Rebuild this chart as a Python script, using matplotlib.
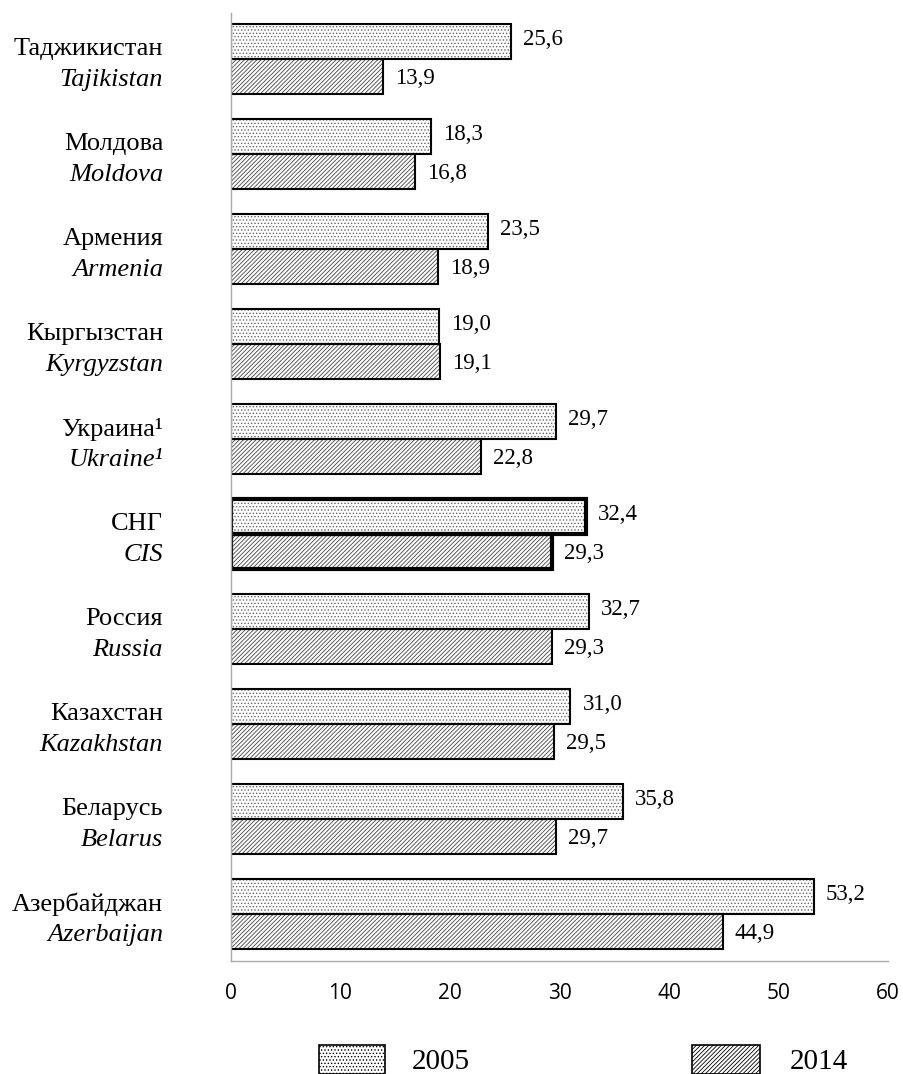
import matplotlib.pyplot as plt
from matplotlib.patches import Rectangle

# data, top to bottom
names_ru = ['Таджикистан', 'Молдова', 'Армения', 'Кыргызстан', 'Украина¹',
            'СНГ', 'Россия', 'Казахстан', 'Беларусь', 'Азербайджан']
names_en = ['Tajikistan', 'Moldova', 'Armenia', 'Kyrgyzstan', 'Ukraine¹',
            'CIS', 'Russia', 'Kazakhstan', 'Belarus', 'Azerbaijan']
val_2005 = [25.6, 18.3, 23.5, 19.0, 29.7, 32.4, 32.7, 31.0, 35.8, 53.2]
val_2014 = [13.9, 16.8, 18.9, 19.1, 22.8, 29.3, 29.3, 29.5, 29.7, 44.9]
years = ['2005', '2014']

serif = 'Liberation Serif'
W, H = 904, 1074
plt.rcParams['hatch.linewidth'] = 0.6

fig = plt.figure(figsize=(W / 100, H / 100), dpi=100)
ax = fig.add_axes([231 / W, 1 - 961 / H, 657 / W, 948 / H])

h = 0.368
pos = list(range(len(names_ru)))
y1 = [p - h / 2 for p in pos]
y2 = [p + h / 2 for p in pos]

# hatched fills first (hatch takes the edgecolor), outlines drawn on top
ax.barh(y1, val_2005, height=h, color='white', edgecolor='#666666', hatch='.....', linewidth=0)
ax.barh(y2, val_2014, height=h, color='white', edgecolor='#444444', hatch='////////', linewidth=0)
lw = [3 if n == 'CIS' else 1.5 for n in names_en]
ax.barh(y1, val_2005, height=h, fill=False, edgecolor='black', linewidth=lw)
ax.barh(y2, val_2014, height=h, fill=False, edgecolor='black', linewidth=lw)

for i in pos:
    ax.text(val_2005[i] + 1.1, y1[i] - 0.02, f'{val_2005[i]:.1f}'.replace('.', ','),
            va='center', ha='left', fontsize=16.5, family=serif)
    ax.text(val_2014[i] + 1.1, y2[i] + 0.02, f'{val_2014[i]:.1f}'.replace('.', ','),
            va='center', ha='left', fontsize=16.5, family=serif)
    ax.text(-6.2, i - 0.1, names_ru[i], ha='right', va='center', fontsize=19, family=serif)
    ax.text(-6.2, i + 0.22, names_en[i], ha='right', va='center', fontsize=19,
            family=serif, style='italic')

ax.set_xlim(0, 60)
ax.set_ylim(9.495, -0.484)
ax.set_xticks(range(0, 61, 10))
ax.set_yticks([])
ax.tick_params(axis='x', length=0, pad=16, labelsize=15)
for t in ax.get_xticklabels():
    t.set_family('Open Sans')
for s in ['top', 'right']:
    ax.spines[s].set_visible(False)
for s in ['left', 'bottom']:
    ax.spines[s].set_color('#aaaaaa')
    ax.spines[s].set_linewidth(1)

# legend drawn in figure pixels
leg_boxes = [(319, 385), (692, 760)]
leg_text_x = [412, 790]
leg_hatch = ['.....', '////////']
for (x0, x1), tx, hp, lab in zip(leg_boxes, leg_text_x, leg_hatch, years):
    fig.add_artist(Rectangle((x0 / W, 1 - 1074 / H), (x1 - x0) / W, 29 / H,
                             transform=fig.transFigure, facecolor='white',
                             edgecolor='black', hatch=hp, linewidth=1.2))
    fig.text(tx / W, 1 - 1062 / H, lab, ha='left', va='center', fontsize=21, family=serif)

fig.savefig('out.png', dpi=100)
